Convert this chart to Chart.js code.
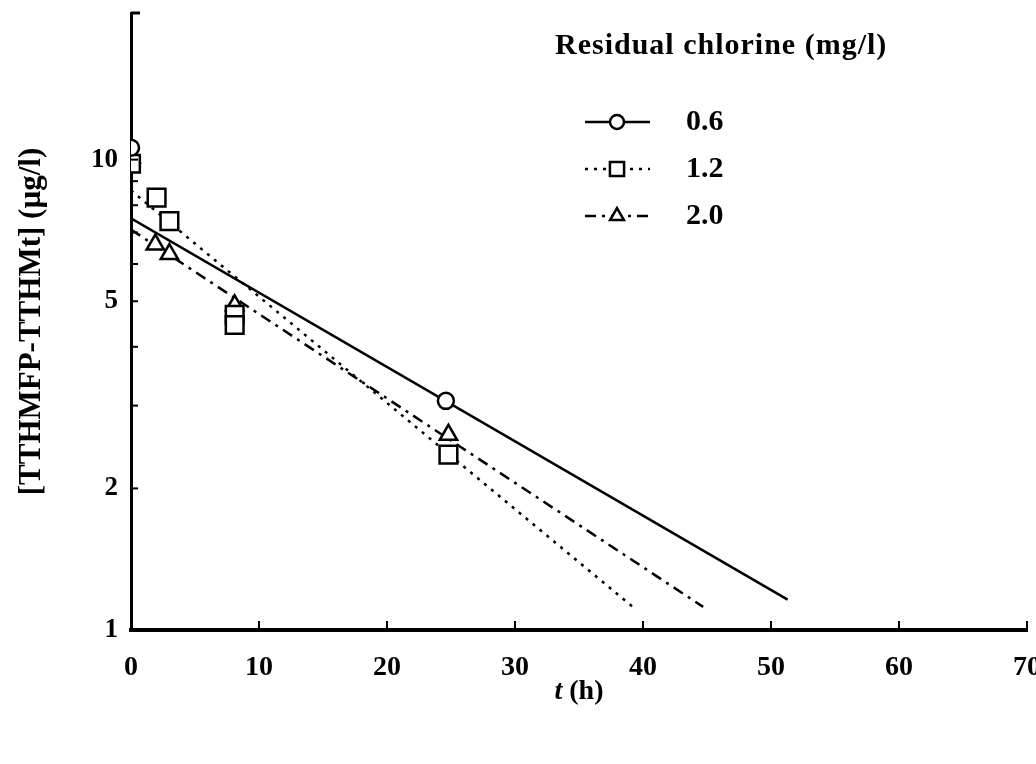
<!DOCTYPE html>
<html>
<head>
<meta charset="utf-8">
<script src="https://cdn.jsdelivr.net/npm/chart.js@4.4.1/dist/chart.umd.min.js"></script>
<style>
html, body { margin: 0; padding: 0; background: #fff; }
#wrap { width: 1036px; height: 764px; position: relative; }
</style>
</head>
<body>
<div id="wrap"><canvas id="chart"></canvas></div>
<script>
// residual chlorine levels (mg/l)
const seriesNames = ['0.6', '1.2', '2.0'];

// measured points, t (h) and [TTHMFP-TTHMt] (ug/l)
const obsTime06 = [0, 24.6];
const obsConc06 = [10.6, 3.07];
const obsTime12 = [0, 2.0, 3.0, 8.1, 8.1, 24.8];
const obsConc12 = [9.8, 8.3, 7.4, 4.68, 4.45, 2.36];
const obsTime20 = [0, 1.9, 3.0, 8.1, 24.8];
const obsConc20 = [10.1, 6.6, 6.3, 4.9, 2.6];

// fitted first-order lines (end points)
const fitTime06 = [0, 51.3];
const fitConc06 = [7.5, 1.16];
const fitTime12 = [0, 39.2];
const fitConc12 = [8.6, 1.12];
const fitTime20 = [0, 44.7];
const fitConc20 = [7.1, 1.12];

// axis ticks
const xTicks = [0, 10, 20, 30, 40, 50, 60, 70];
const yTickLabels = [1, 2, 5, 10];
const yMinorTicks = [2, 3, 4, 5, 6, 7, 8, 9, 10];

const SERIF = '"Liberation Serif", "Times New Roman", serif';

function toPoints(xs, ys) {
    return xs.map((t, i) => ({ x: t, y: ys[i] }));
}

const styles = [
    { marker: 'circle', radius: 8, legendRadius: 7, dash: [] },
    { marker: 'rect', radius: 12.5, legendRadius: 10, dash: [3, 6] },
    { marker: 'triangle', radius: 10, legendRadius: 8, dash: [11, 6, 3, 6] }
];

const observed = [
    toPoints(obsTime06, obsConc06),
    toPoints(obsTime12, obsConc12),
    toPoints(obsTime20, obsConc20)
];
const fitted = [
    toPoints(fitTime06, fitConc06),
    toPoints(fitTime12, fitConc12),
    toPoints(fitTime20, fitConc20)
];

const datasets = [];
seriesNames.forEach((name, i) => {
    datasets.push({
        label: name + ' fit',
        data: fitted[i],
        showLine: true,
        borderColor: '#000',
        borderWidth: 2.5,
        borderDash: styles[i].dash,
        pointRadius: 0,
        order: 2
    });
    datasets.push({
        label: name,
        data: observed[i],
        showLine: false,
        pointStyle: styles[i].marker,
        pointRadius: styles[i].radius,
        pointBorderWidth: 2.5,
        pointBorderColor: '#000',
        pointBackgroundColor: '#fff',
        order: 1
    });
});

// axis extras, x title and legend drawn on top of the chart
const decorations = {
    id: 'decorations',
    afterDraw(chart) {
        const { ctx, chartArea, scales } = chart;
        const xs = scales.x, ys = scales.y;
        ctx.save();
        ctx.strokeStyle = '#000';
        ctx.fillStyle = '#000';
        ctx.lineWidth = 2;

        xTicks.forEach(v => {
            const px = xs.getPixelForValue(v);
            ctx.beginPath();
            ctx.moveTo(px, chartArea.bottom);
            ctx.lineTo(px, chartArea.bottom - 9);
            ctx.stroke();
        });
        yMinorTicks.forEach(v => {
            const py = ys.getPixelForValue(v);
            ctx.beginPath();
            ctx.moveTo(chartArea.left, py);
            ctx.lineTo(chartArea.left + 7, py);
            ctx.stroke();
        });
        // small cap at the top of the y axis
        ctx.lineWidth = 3;
        ctx.beginPath();
        ctx.moveTo(chartArea.left, chartArea.top);
        ctx.lineTo(chartArea.left + 9, chartArea.top);
        ctx.stroke();

        // x axis title: italic t, then (h)
        const cx = (chartArea.left + chartArea.right) / 2;
        ctx.textBaseline = 'middle';
        ctx.textAlign = 'left';
        ctx.font = 'italic bold 28px ' + SERIF;
        const tW = ctx.measureText('t ').width;
        ctx.font = 'bold 28px ' + SERIF;
        const hW = ctx.measureText('(h)').width;
        let tx = cx - (tW + hW) / 2;
        ctx.font = 'italic bold 28px ' + SERIF;
        ctx.fillText('t ', tx, 692);
        ctx.font = 'bold 28px ' + SERIF;
        ctx.fillText('(h)', tx + tW, 692);

        // legend
        ctx.font = 'bold 30px ' + SERIF;
        ctx.letterSpacing = '1px';
        ctx.fillText('Residual chlorine (mg/l)', 555, 46);
        ctx.letterSpacing = '0px';
        const rowY = [122, 169, 216];
        seriesNames.forEach((name, i) => {
            const y = rowY[i];
            ctx.lineWidth = 2.5;
            ctx.setLineDash(styles[i].dash);
            ctx.beginPath();
            ctx.moveTo(585, y);
            ctx.lineTo(650, y);
            ctx.stroke();
            ctx.setLineDash([]);
            ctx.lineWidth = 2.5;
            ctx.fillStyle = '#fff';
            Chart.helpers.drawPoint(ctx, {
                pointStyle: styles[i].marker,
                radius: styles[i].legendRadius,
                rotation: 0,
                borderWidth: 2.5
            }, 617, y);
            ctx.fillStyle = '#000';
            ctx.font = 'bold 30px ' + SERIF;
            ctx.fillText(name, 686, y);
        });
        ctx.restore();
    }
};

function renderDecayChart(canvasId) {
    const el = document.getElementById(canvasId);
    if (!el) {
        console.error(`Canvas element with ID ${canvasId} not found`);
        return;
    }
    el.chart = new Chart(el, {
        type: 'scatter',
        data: { datasets: datasets },
        options: {
            responsive: true,
            maintainAspectRatio: false,
            animation: false,
            layout: { autoPadding: false, padding: { top: 13, right: 9, left: 0, bottom: 0 } },
            plugins: {
                legend: { display: false },
                tooltip: { enabled: false }
            },
            scales: {
                x: {
                    type: 'linear',
                    min: 0,
                    max: 70,
                    afterFit: s => { s.height = 134; s.paddingLeft = 0; s.paddingRight = 0; },
                    afterBuildTicks: s => { s.ticks = xTicks.map(v => ({ value: v })); },
                    grid: { display: false, drawTicks: false },
                    border: { display: true, color: '#000', width: 4 },
                    ticks: {
                        padding: 21,
                        color: '#000',
                        font: { family: SERIF, weight: 'bold', size: 28 }
                    }
                },
                y: {
                    type: 'logarithmic',
                    min: 1,
                    max: 20.5,
                    afterFit: s => { s.width = 131; s.paddingTop = 0; s.paddingBottom = 0; },
                    afterBuildTicks: s => { s.ticks = yTickLabels.map(v => ({ value: v })); },
                    grid: { display: false, drawTicks: false },
                    border: { display: true, color: '#000', width: 3 },
                    ticks: {
                        padding: 13,
                        color: '#000',
                        autoSkip: false,
                        callback: v => String(v),
                        font: { family: SERIF, weight: 'bold', size: 27 }
                    },
                    title: {
                        display: true,
                        text: '[TTHMFP-TTHMt] (µg/l)',
                        color: '#000',
                        padding: { top: 13, bottom: 0 },
                        font: { family: SERIF, weight: 'bold', size: 31 }
                    }
                }
            }
        },
        plugins: [decorations]
    });
}

renderDecayChart('chart');
</script>
</body>
</html>
